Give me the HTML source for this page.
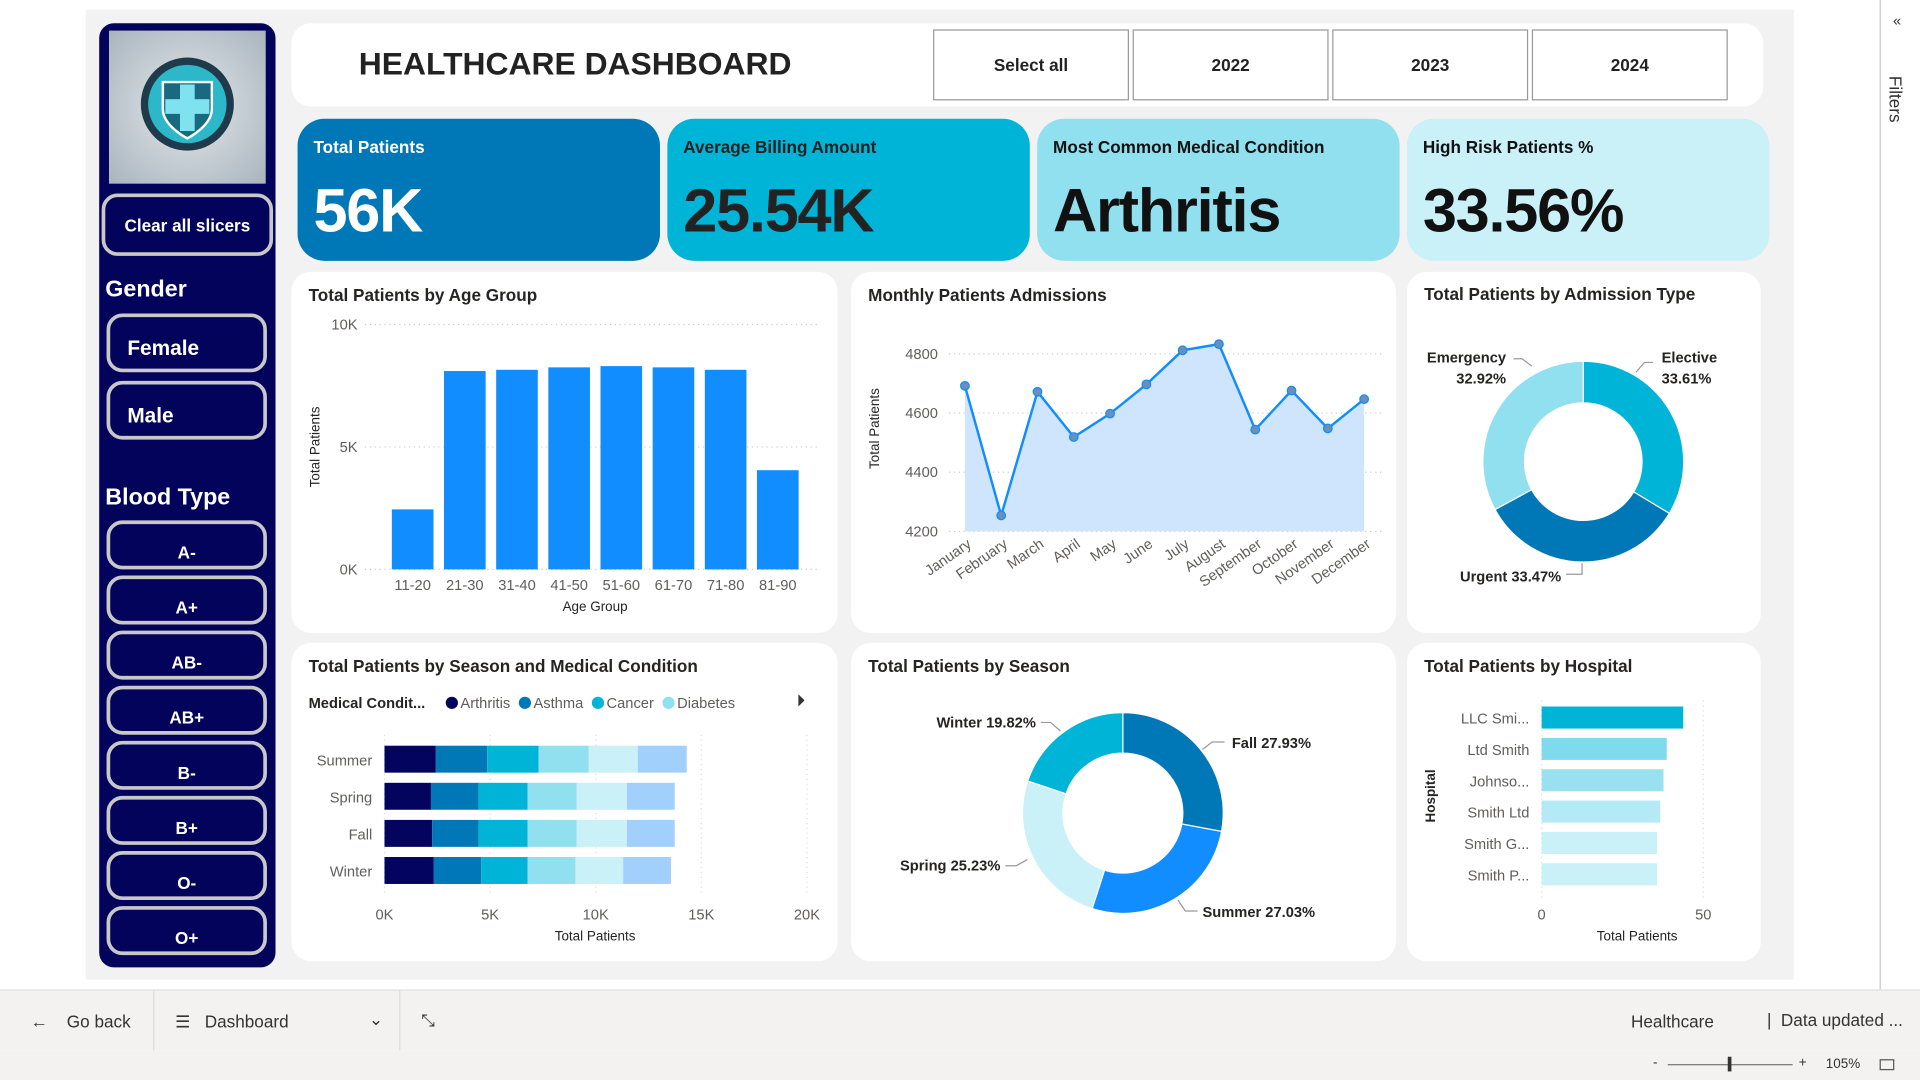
<!DOCTYPE html>
<html><head><meta charset="utf-8">
<style>
html,body{margin:0;padding:0;width:1920px;height:1080px;overflow:hidden;background:#fff;font-family:"Liberation Sans",sans-serif;}
#stage{position:absolute;left:0;top:0;width:1568px;height:882px;transform:scale(1.22449);transform-origin:0 0;background:#fff;}
.abs{position:absolute;box-sizing:border-box;}
.canvas{left:70px;top:8px;width:1395px;height:792px;background:#f2f2f2;}
.side{left:81px;top:19px;width:144px;height:771px;background:#04035c;border-radius:12px;}
.sbtn{position:absolute;box-sizing:border-box;border:3px solid #c8c8c8;border-radius:13px;background:#04035c;color:#fff;font-weight:bold;}
.card{position:absolute;background:#fff;border-radius:16px;}
.ctitle{position:absolute;left:14px;top:11px;font-size:14px;font-weight:bold;color:#252423;}
.yr{position:absolute;top:24px;width:158px;height:56px;border:1px solid #999;background:#fff;font-size:14px;font-weight:bold;display:flex;align-items:center;justify-content:center;color:#222;}
.kpi{position:absolute;top:97px;width:296px;height:116px;border-radius:22px;}
.kl{position:absolute;left:13px;top:15px;font-size:14px;font-weight:bold;}
.kv{position:absolute;left:13px;top:46px;font-size:50px;font-weight:bold;letter-spacing:-1px;}
svg text{font-family:"Liberation Sans",sans-serif;}
</style></head><body>
<div id="stage">
<div class="abs canvas"></div>

<div class="abs side">
  <div class="abs" style="left:8px;top:6px;width:128px;height:125px;background:radial-gradient(circle at 50% 50%,#e3e8ec,#a9b4bd);">
    <svg width="128" height="125"><circle cx="64" cy="60" r="38" fill="#1f3a4a"/><circle cx="64" cy="60" r="32" fill="#2cb8c8"/><path d="M44 42h40v22c0 14-20 24-20 24s-20-10-20-24z" fill="#176a80" stroke="#fff" stroke-width="2"/><rect x="58" y="44" width="12" height="38" fill="#7fe3ef"/><rect x="46" y="56" width="36" height="12" fill="#7fe3ef"/></svg>
  </div>
  <div class="sbtn" style="left:2px;top:139px;width:140px;height:51px;font-size:14px;display:flex;align-items:center;justify-content:center;">Clear all slicers</div>
  <div class="abs" style="left:5px;top:207px;color:#fff;font-size:19px;font-weight:bold;">Gender</div>
  <div class="sbtn" style="left:6px;top:237px;width:131px;height:48px;font-size:17px;padding:16px 0 0 14px;">Female</div>
  <div class="sbtn" style="left:6px;top:292px;width:131px;height:48px;font-size:17px;padding:16px 0 0 14px;">Male</div>
  <div class="abs" style="left:5px;top:377px;color:#fff;font-size:19px;font-weight:bold;">Blood Type</div>
  <div id="bt"></div>
</div>

<div class="card" style="left:238px;top:19px;width:1202px;height:68px;">
  <div class="abs" style="left:55px;top:18px;font-size:26px;font-weight:bold;color:#222;">HEALTHCARE DASHBOARD</div>
</div>
<div class="yr" style="left:762px;">Select all</div>
<div class="yr" style="left:925px;">2022</div>
<div class="yr" style="left:1088px;">2023</div>
<div class="yr" style="left:1251px;">2024</div>

<div class="kpi" style="left:243px;background:#0077b6;color:#fff;"><div class="kl">Total Patients</div><div class="kv">56K</div></div>
<div class="kpi" style="left:545px;background:#00b4d8;color:#222;"><div class="kl">Average Billing Amount</div><div class="kv">25.54K</div></div>
<div class="kpi" style="left:847px;background:#90e0ef;color:#111;"><div class="kl">Most Common Medical Condition</div><div class="kv">Arthritis</div></div>
<div class="kpi" style="left:1149px;background:#caf0f8;color:#111;"><div class="kl">High Risk Patients %</div><div class="kv">33.56%</div></div>

<div class="card" style="left:238px;top:222px;width:446px;height:295px;"><div class="ctitle">Total Patients by Age Group</div></div>
<div class="card" style="left:695px;top:222px;width:445px;height:295px;"><div class="ctitle">Monthly Patients Admissions</div></div>
<div class="card" style="left:1149px;top:222px;width:289px;height:295px;"><div class="ctitle" style="top:10px">Total Patients by Admission Type</div></div>
<div class="card" style="left:238px;top:525px;width:446px;height:260px;"><div class="ctitle">Total Patients by Season and Medical Condition</div></div>
<div class="card" style="left:695px;top:525px;width:445px;height:260px;"><div class="ctitle">Total Patients by Season</div></div>
<div class="card" style="left:1149px;top:525px;width:289px;height:260px;"><div class="ctitle">Total Patients by Hospital</div></div>

<svg id="charts" class="abs" style="left:0;top:0;" width="1568" height="882"></svg>

<div class="abs" style="left:1535px;top:0;width:33px;height:808px;border-left:1px solid #c8c8c8;background:#fff;">
  <div class="abs" style="left:10px;top:10px;font-size:12px;color:#333;">«</div>
  <div class="abs" style="left:4px;top:62px;font-size:14px;color:#333;writing-mode:vertical-rl;">Filters</div>
</div>

<div class="abs" style="left:0;top:808px;width:1568px;height:50px;background:#f3f2f1;border-top:1px solid #e1e1e1;font-size:14px;color:#333;">
  <div class="abs" style="left:25px;top:17px;">←&nbsp;&nbsp;&nbsp;&nbsp;Go back</div>
  <div class="abs" style="left:125px;top:0;width:1px;height:50px;background:#ddd;"></div>
  <div class="abs" style="left:143px;top:17px;width:170px;">☰&nbsp;&nbsp;&nbsp;Dashboard<span style="position:absolute;right:0;top:-2px;">⌄</span></div>
  <div class="abs" style="left:326px;top:0;width:1px;height:50px;background:#ddd;"></div>
  <div class="abs" style="left:344px;top:16px;">⤡</div>
  <div class="abs" style="left:1332px;top:17px;">Healthcare</div>
  <div class="abs" style="left:1443px;top:16px;">|&nbsp;&nbsp;Data updated ...</div>
</div>
<div class="abs" style="left:0;top:858px;width:1568px;height:24px;background:#f3f2f1;font-size:11px;color:#333;">
  <div class="abs" style="left:1350px;top:4px;">-</div>
  <div class="abs" style="left:1362px;top:11px;width:102px;height:1px;background:#777;"></div>
  <div class="abs" style="left:1411px;top:5px;width:3px;height:12px;background:#333;"></div>
  <div class="abs" style="left:1469px;top:4px;">+</div>
  <div class="abs" style="left:1491px;top:5px;">105%</div>
  <div class="abs" style="left:1535px;top:7px;width:12px;height:9px;border:1px solid #555;"></div>
</div>
</div>

<script>
// ---- data ----
const bloodTypes = ["A-","A+","AB-","AB+","B-","B+","O-","O+"];
const ageGroups = ["11-20","21-30","31-40","41-50","51-60","61-70","71-80","81-90"];
const ageValues = [2450,8100,8150,8250,8300,8250,8150,4050];
const ageTicks = [0,5000,10000];
const ageTickLabels = ["0K","5K","10K"];
const months = ["January","February","March","April","May","June","July","August","September","October","November","December"];
const monthValues = [4692,4254,4672,4519,4598,4697,4812,4833,4544,4676,4548,4647];
const monthTicks = [4200,4400,4600,4800];
const admTypes = ["Elective","Urgent","Emergency"];
const admValues = [33.61,33.47,32.92];
const seasons = ["Summer","Spring","Fall","Winter"];
const conditions = ["Arthritis","Asthma","Cancer","Diabetes","Hypertension","Obesity"];
const seasonArthritis = [2430,2200,2260,2320];
const seasonAsthma = [2430,2260,2200,2260];
const seasonCancer = [2430,2320,2320,2200];
const seasonDiabetes = [2380,2320,2320,2260];
const seasonHypertension = [2320,2380,2380,2260];
const seasonObesity = [2320,2260,2260,2260];
const condTicks = [0,5000,10000,15000,20000];
const condTickLabels = ["0K","5K","10K","15K","20K"];
const seasonNames = ["Fall","Summer","Spring","Winter"];
const seasonPct = [27.93,27.03,25.23,19.82];
const hospitals = ["LLC Smi...","Ltd Smith","Johnso...","Smith Ltd","Smith G...","Smith P..."];
const hospitalValues = [43.8,38.7,37.7,36.7,35.7,35.7];
const hospTicks = [0,50];

const NS="http://www.w3.org/2000/svg";
const svg=document.getElementById('charts');
function mk(tag,attrs,parent){const e=document.createElementNS(NS,tag);for(const k in attrs)e.setAttribute(k,attrs[k]);(parent||svg).appendChild(e);return e;}
function txt(s,x,y,attrs){const t=mk('text',Object.assign({x:x,y:y,'font-size':12,fill:'#605e5c'},attrs||{}));t.textContent=s;return t;}

// blood type buttons
const bt=document.getElementById('bt');
bloodTypes.forEach((b,i)=>{const d=document.createElement('div');d.className='sbtn';


d.style.cssText='left:6px;top:'+(406+i*45)+'px;width:131px;height:40px;font-size:14px;display:flex;align-items:flex-end;justify-content:center;padding-bottom:3px;';
d.textContent=b;bt.appendChild(d);});

// ---- age chart ----
const ay=v=>465-v/10000*200, ax=i=>337+i*42.6;
ageTicks.forEach((t,i)=>{const g=mk('line',{x1:298,x2:668,y1:ay(t),y2:ay(t),stroke:'#ccc','stroke-dasharray':'1 3'});

const l=txt(ageTickLabels[i],292,ay(t)+4,{'text-anchor':'end'});});
ageGroups.forEach((c,i)=>{const r=mk('rect',{x:ax(i)-17,y:ay(ageValues[i]),width:34,height:465-ay(ageValues[i]),fill:'#118dff'});

const l=txt(c,ax(i),482,{'text-anchor':'middle'});});
let t1=txt('Age Group',486,499,{'text-anchor':'middle','font-size':11,fill:'#252423'});
let t2=txt('Total Patients',261,365,{'text-anchor':'middle','font-size':11,fill:'#252423',transform:'rotate(-90 261 365)'});

// ---- monthly line ----
const my=v=>434-(v-4200)/600*145, mx=i=>788+i*29.64;
monthTicks.forEach(t=>{const g=mk('line',{x1:775,x2:1128,y1:my(t),y2:my(t),stroke:'#ccc','stroke-dasharray':'1 3'});

const l=txt(String(t),766,my(t)+4,{'text-anchor':'end'});});
let pts=monthValues.map((v,i)=>mx(i)+','+my(v)).join(' ');
let area=mk('polygon',{points:mx(0)+',434 '+pts+' '+mx(11)+',434',fill:'#cfe5fd'});
let line=mk('polyline',{points:pts,fill:'none',stroke:'#118dff','stroke-width':2});
monthValues.forEach((v,i)=>{const c=mk('circle',{cx:mx(i),cy:my(v),r:3.5,fill:'#6a8fb8',stroke:'#118dff','stroke-width':1});

const l=txt(months[i],mx(i)+6,446,{'text-anchor':'end',transform:'rotate(-35 '+(mx(i)+6)+' 446)'});});
let t3=txt('Total Patients',718,350,{'text-anchor':'middle','font-size':11,fill:'#252423',transform:'rotate(-90 718 350)'});

// donut helper
function donut(cx,cy,ro,ri,vals,cols,name){const tot=vals.reduce((a,b)=>a+b,0);let a0=-Math.PI/2;const out=[];
vals.forEach((v,i)=>{const a1=a0+v/tot*2*Math.PI,lg=(a1-a0)>Math.PI?1:0;
const p=(r,a)=>(cx+r*Math.cos(a))+' '+(cy+r*Math.sin(a));
const d='M'+p(ro,a0)+' A'+ro+' '+ro+' 0 '+lg+' 1 '+p(ro,a1)+' L'+p(ri,a1)+' A'+ri+' '+ri+' 0 '+lg+' 0 '+p(ri,a0)+'Z';
const s=mk('path',{d:d,fill:cols[i],stroke:'#fff','stroke-width':1});

out.push((a0+a1)/2);a0=a1;});return out;}

// admission donut
const admColors=['#00b4d8','#0077b6','#90e0ef'];
donut(1293,377,82,48,admValues,admColors,'admission');
[[1357,296,'start'],[1275,475,'end'],[1230,296,'end']].forEach((p,i)=>{
const a=txt(admTypes[i],p[0],p[1],{'text-anchor':p[2],'font-size':12,'font-weight':'bold',fill:'#252423'});

if(i!==1){const b=txt(admValues[i].toFixed(2)+'%',p[0],p[1]+17,{'text-anchor':p[2],'font-size':12,'font-weight':'bold',fill:'#252423'});}
else a.textContent=admTypes[i]+' '+admValues[i].toFixed(2)+'%';});
mk('polyline',{points:'1336,304 1343,296 1350,296',fill:'none',stroke:'#999'});
mk('polyline',{points:'1251,299 1243,293 1236,293',fill:'none',stroke:'#999'});
mk('polyline',{points:'1292,460 1292,469 1279,469',fill:'none',stroke:'#999'});

// ---- season x condition stacked ----
const condColors=['#03045e','#0077b6','#00b4d8','#90e0ef','#caf0f8','#a0d0fb'];
const condSeries=[seasonArthritis,seasonAsthma,seasonCancer,seasonDiabetes,seasonHypertension,seasonObesity];
const sx=v=>314+v/20000*345, sy=i=>620+i*30.3;
condTicks.forEach((t,i)=>{const g=mk('line',{x1:sx(t),x2:sx(t),y1:600,y2:730,stroke:'#ddd','stroke-dasharray':'1 3'});

const l=txt(condTickLabels[i],sx(t),751,{'text-anchor':'middle'});});
seasons.forEach((s,i)=>{let acc=0;condSeries.forEach((ser,j)=>{const r=mk('rect',{x:sx(acc),y:sy(i)-11,width:sx(acc+ser[i])-sx(acc),height:22,fill:condColors[j]});
acc+=ser[i];});
const l=txt(s,304,sy(i)+5,{'text-anchor':'end',fill:'#605e5c'});});
let t4=txt('Total Patients',486,768,{'text-anchor':'middle','font-size':11,fill:'#252423'});
let lg=txt('Medical Condit...',252,578,{'font-size':12,'font-weight':'bold',fill:'#252423'});
let lx=364;conditions.slice(0,4).forEach((c,j)=>{const d=mk('circle',{cx:lx+5,cy:574,r:5,fill:condColors[j]});
const l=txt(c,lx+12,578,{fill:'#605e5c'});lx+=12+l.getComputedTextLength()+7;});
let arr=mk('polygon',{points:'652,567 657,572 652,577',fill:'#333'});

// ---- season donut ----
const seasonColors=['#0077b6','#118dff','#caf0f8','#00b4d8'];
donut(917,664,82,49,seasonPct,seasonColors,'season');
[[1006,611,'start'],[982,749,'start'],[817,711,'end'],[846,594,'end']].forEach((p,i)=>{
const l=txt(seasonNames[i]+' '+seasonPct[i].toFixed(2)+'%',p[0],p[1],{'text-anchor':p[2],'font-weight':'bold',fill:'#252423'});
});
mk('polyline',{points:'982,612 990,606 1000,606',fill:'none',stroke:'#999'});
mk('polyline',{points:'962,735 968,744 978,744',fill:'none',stroke:'#999'});
mk('polyline',{points:'839,702 830,707 821,707',fill:'none',stroke:'#999'});
mk('polyline',{points:'866,597 858,590 850,590',fill:'none',stroke:'#999'});

// ---- hospital bars ----
const hospColors=['#00b4d8','#7fdaee','#99e1f0','#b3eaf5','#caf0f8','#caf0f8'];
const hx=v=>1259+v/50*132, hy=i=>586+i*25.6;
hospTicks.forEach(t=>{const g=mk('line',{x1:hx(t),x2:hx(t),y1:572,y2:733,stroke:'#ddd','stroke-dasharray':'1 3'});

const l=txt(String(t),hx(t),751,{'text-anchor':'middle'});});
hospitals.forEach((h,i)=>{const r=mk('rect',{x:1259,y:hy(i)-9,width:hx(hospitalValues[i])-1259,height:18,fill:hospColors[i]});

const l=txt(h,1249,hy(i)+5,{'text-anchor':'end'});});
let t5=txt('Total Patients',1337,768,{'text-anchor':'middle','font-size':11,fill:'#252423'});
let t6=txt('Hospital',1172,650,{'text-anchor':'middle','font-size':11,'font-weight':'bold',fill:'#252423',transform:'rotate(-90 1172 650)'});
</script>
</body></html>
